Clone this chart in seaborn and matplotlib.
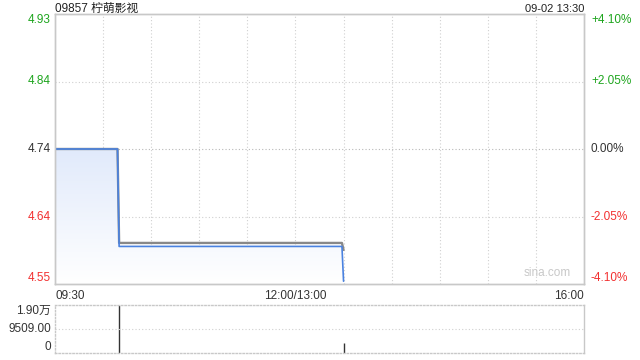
import numpy as np
import pandas as pd
import matplotlib
matplotlib.use("Agg")
import matplotlib.pyplot as plt
import seaborn as sns
from matplotlib.colors import LinearSegmentedColormap

# ---- data ----
title = "09857 柠萌影视"
stamp = "09-02 13:30"
prev_close = 4.74
minutes = [0, 39, 40, 179, 180]               # minutes since 09:30 (lunch removed)
price = [4.74, 4.74, 4.60, 4.60, 4.55]
avg_price = [4.74, 4.74, 4.605, 4.605, 4.595]
vol_minutes = [40, 180]
volume = [19018, 4100]
price_ticks = [4.934, 4.837, 4.74, 4.643, 4.546]
price_labels = ["4.93", "4.84", "4.74", "4.64", "4.55"]
pct_labels = ["+4.10%", "+2.05%", "0.00%", "-2.05%", "-4.10%"]
vol_ticks = [0, 9509, 19018]
vol_labels = ["0", "9509.00", "1.90万"]
x_ticks = [0, 150, 330]
x_labels = ["09:30", "12:00/13:00", "16:00"]

sns.set_theme(style="white")
plt.rcParams['font.family'] = ['Liberation Sans', 'Noto Sans CJK SC', 'DejaVu Sans']

GREEN = "#1ea51e"
RED = "#f23030"
BLUE = "#4a82e0"
SPINE = "#c8c8c8"

fig = plt.figure(figsize=(6.4, 3.6), dpi=100)
ax = fig.add_axes([55/640, 1-284/360, 529/640, 270/360])
axv = fig.add_axes([55/640, 1-353/360, 529/640, 48/360])

df = pd.DataFrame({"t": minutes, "p": price, "a": avg_price})
ymin, ymax = price_ticks[-1], price_ticks[0]
ax.set_xlim(0, 330)
ax.set_ylim(ymin, ymax)

# gradient fill under price
grad = np.linspace(0, 1, 256).reshape(-1, 1)
cmap = LinearSegmentedColormap.from_list("g", ["#ffffff", "#e1eafb"])
poly = ax.fill_between(df["t"], df["p"], ymin, color="none", lw=0)
im = ax.imshow(grad, extent=[0, 330, ymin, prev_close], origin="lower", aspect="auto",
               cmap=cmap, zorder=1)
path = poly.get_paths()[0]
im.set_clip_path(path, transform=ax.transData)

sns.lineplot(data=df, x="t", y="a", ax=ax, color="#888888", lw=1.7, zorder=3)
sns.lineplot(data=df, x="t", y="p", ax=ax, color=BLUE, lw=1.2, zorder=4)

# grids
for v in range(30, 330, 30):
    ax.axvline(v, color="#d0d0d0", lw=0.8, ls=(0, (1, 2)), zorder=0)
for v in price_ticks[1:-1]:
    ax.axhline(v, color="#b8b8b8" if v == prev_close else "#d0d0d0", lw=0.8,
               ls=(0, (1, 2)), zorder=0)

ax.set_xlabel("")
ax.set_ylabel("")
ax.set_yticks(price_ticks)
ax.set_yticklabels(price_labels)
ax.tick_params(axis="y", length=0, pad=3, labelsize=8.5)
cols = [GREEN, GREEN, "#333333", RED, RED]
vas = ["top", "center", "center", "center", "bottom"]
for lab, c, va in zip(ax.get_yticklabels(), cols, vas):
    lab.set_color(c)
    lab.set_va(va)

ax.set_xticks(x_ticks)
ax.set_xticklabels(x_labels)
ax.tick_params(axis="x", length=0, pad=4, labelsize=8.5, colors="#333333")
has = ["left", "center", "right"]
for lab, ha in zip(ax.get_xticklabels(), has):
    lab.set_ha(ha)

ax2 = ax.twinx()
ax2.set_ylim(ymin, ymax)
ax2.set_yticks(price_ticks)
ax2.set_yticklabels(pct_labels)
ax2.tick_params(axis="y", length=0, pad=5, labelsize=8.5)
for lab, c, va in zip(ax2.get_yticklabels(), cols, vas):
    lab.set_color(c)
    lab.set_va(va)

for a in (ax, ax2):
    for s in a.spines.values():
        s.set_color(SPINE)
        s.set_linewidth(1)

ax.annotate(title, xy=(0, 1), xycoords="axes fraction", xytext=(0, 1.3),
            textcoords="offset points", ha="left", va="baseline",
            fontsize=8.5, color="#222222", annotation_clip=False)
ax.annotate(stamp, xy=(1, 1), xycoords="axes fraction", xytext=(0, 1.3),
            textcoords="offset points", ha="right", va="baseline",
            fontsize=8, color="#222222", annotation_clip=False)
ax.text(0.975, 0.02, "sina.com", transform=ax.transAxes, ha="right", va="bottom",
        fontsize=8.5, color="#c8c8c8")

# volume
axv.set_xlim(0, 330)
axv.set_ylim(0, vol_ticks[-1])
axv.vlines(vol_minutes, 0, volume, color="#333333", lw=1)
axv.axhline(vol_ticks[1], color="#d0d0d0", lw=0.8, ls=(0, (1, 2)))
axv.set_xticks([])
axv.set_yticks(vol_ticks)
axv.set_yticklabels(vol_labels)
axv.tick_params(axis="y", length=0, pad=3, labelsize=8.5, colors="#333333")
for lab, va in zip(axv.get_yticklabels(), ["bottom", "center", "top"]):
    lab.set_va(va)
for name, s in axv.spines.items():
    s.set_color(SPINE)
    s.set_linewidth(1)
    if name != "right":
        s.set_linestyle((0, (1, 1.5)))

fig.savefig("out.png", dpi=100)
